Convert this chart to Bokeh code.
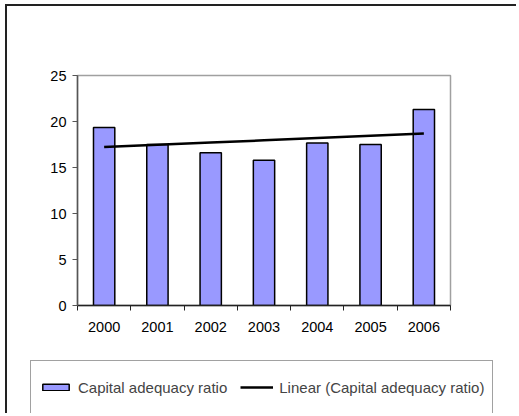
import numpy as np
from bokeh.plotting import figure
from bokeh.models import FixedTicker, Legend, LegendItem, Range1d
from bokeh.embed import file_html
from bokeh.resources import INLINE

# ---- data ----
years = [2000, 2001, 2002, 2003, 2004, 2005, 2006]
ratio = [19.35, 17.5, 16.6, 15.8, 17.65, 17.5, 21.3]
y_ticks = [0, 5, 10, 15, 20, 25]
series_name = "Capital adequacy ratio"
trend_name = "Linear (Capital adequacy ratio)"

# linear trendline (least squares fit of the series)
coef = np.polyfit(years, ratio, 1)
trend = [float(v) for v in np.polyval(coef, years)]

FONT = "Liberation Sans"
BAR_STYLE = dict(width=0.4, fill_color="#9999FF", line_color="black", line_width=1.5)
LINE_STYLE = dict(line_color="black", line_width=2.5)
EDGE = "2px solid #222222"

# ---- main chart ----
p = figure(width=511, height=349, output_backend="svg", toolbar_location=None,
           x_range=Range1d(years[0] - 0.5, years[-1] + 0.5),
           y_range=Range1d(y_ticks[0], y_ticks[-1]),
           min_border_left=70, min_border_right=68,
           min_border_top=69, min_border_bottom=50)
p.styles = {"margin-left": "5px", "margin-top": "4px",
            "border-left": EDGE, "border-top": EDGE}

p.vbar(x=years, top=ratio, **BAR_STYLE)
p.line(x=years, y=trend, **LINE_STYLE)

p.xgrid.visible = False
p.ygrid.visible = False
p.outline_line_color = "#A0A0A0"
p.outline_line_width = 1.5

xa = p.xaxis[0]
xa.ticker = FixedTicker(ticks=years,
                        minor_ticks=[y - 0.5 for y in years] + [years[-1] + 0.5])
xa.major_tick_out = 0
xa.major_tick_in = 0
xa.minor_tick_out = 5
xa.minor_tick_in = 0
xa.minor_tick_line_color = "#222222"
xa.axis_line_color = "#222222"
xa.axis_line_width = 1.5
xa.major_label_standoff = 11
xa.major_label_text_font = FONT
xa.major_label_text_font_size = "14.5px"
xa.major_label_text_color = "black"

ya = p.yaxis[0]
ya.ticker = FixedTicker(ticks=y_ticks)
ya.major_tick_out = 5
ya.major_tick_in = 0
ya.minor_tick_out = 0
ya.minor_tick_in = 0
ya.major_tick_line_color = "#555555"
ya.axis_line_color = "#555555"
ya.axis_line_width = 1.5
ya.major_label_standoff = 6
ya.major_label_text_font = FONT
ya.major_label_text_font_size = "14.5px"
ya.major_label_text_color = "black"

# ---- legend strip (same series, drawn outside its view; only the legend shows) ----
p2 = figure(width=511, height=60, output_backend="svg", toolbar_location=None,
            x_range=Range1d(0, 1), y_range=Range1d(0, 1),
            x_axis_location=None, y_axis_location=None,
            min_border_left=0, min_border_right=0,
            min_border_top=0, min_border_bottom=0)
p2.styles = {"margin-left": "5px", "border-left": EDGE}
p2.xgrid.visible = False
p2.ygrid.visible = False
p2.outline_line_color = None
lb = p2.vbar(x=years, top=ratio, **BAR_STYLE)
ll = p2.line(x=years, y=trend, **LINE_STYLE)

legend = Legend(items=[LegendItem(label=series_name, renderers=[lb]),
                       LegendItem(label=trend_name, renderers=[ll])],
                orientation="horizontal", location=(23, -1), margin=0,
                padding=8, spacing=13, label_standoff=6,
                glyph_width=33, glyph_height=8, label_height=36,
                label_text_font=FONT, label_text_font_size="15px",
                border_line_color="#444444", border_line_width=1.5,
                background_fill_alpha=1)
p2.add_layout(legend, "center")

open("out.html", "w").write(file_html([p, p2], INLINE))
